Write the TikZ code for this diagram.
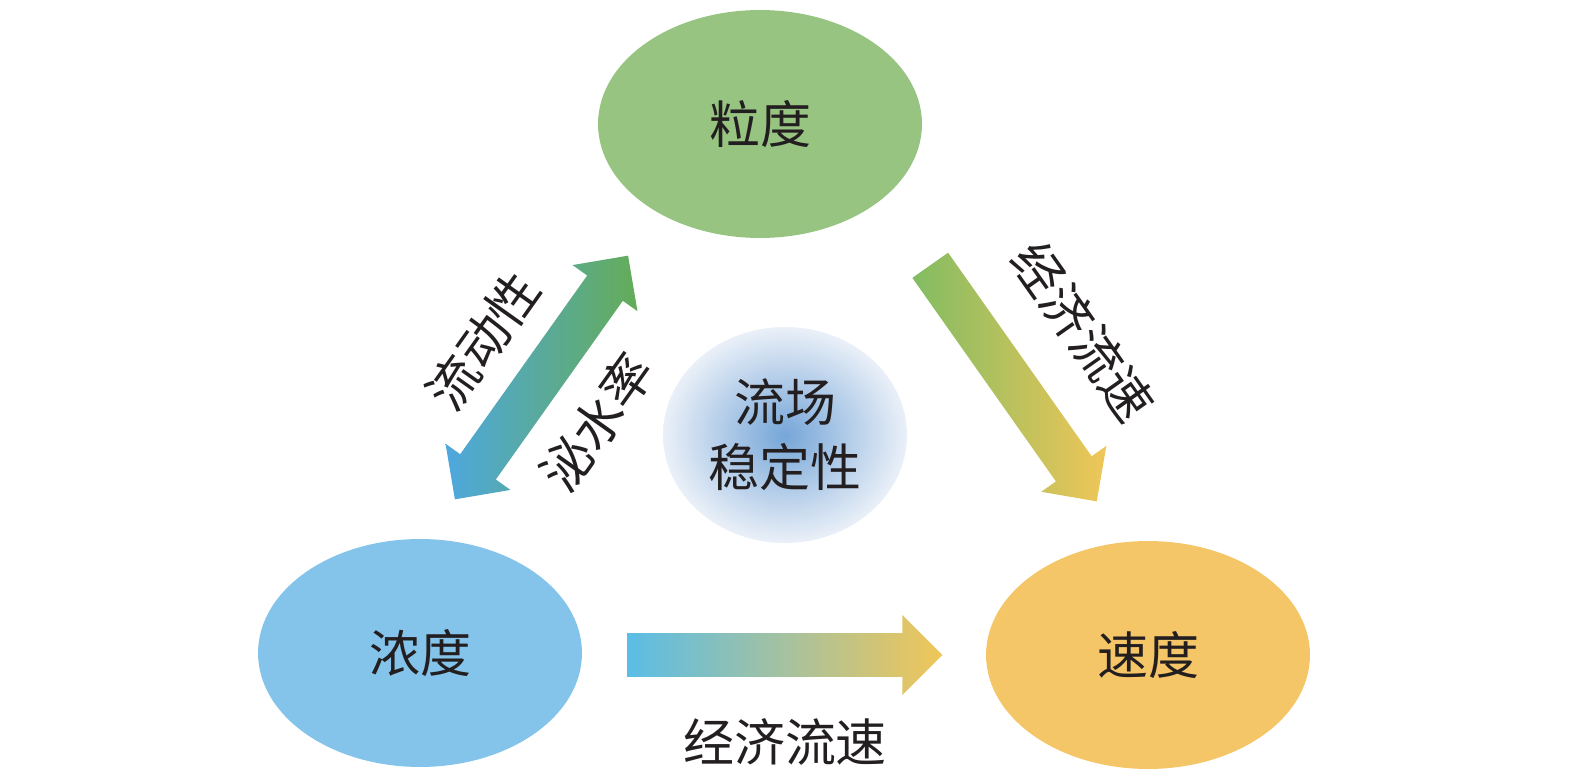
\documentclass[tikz,border=0pt]{standalone}
\usepackage{fontspec}
\newfontfamily\cjk{Noto Sans CJK SC}
\usetikzlibrary{positioning}
\usetikzlibrary{shapes.geometric}
\usetikzlibrary{shapes.arrows}
\definecolor{grain}{RGB}{152,196,130}
\definecolor{dense}{RGB}{133,196,234}
\definecolor{speed}{RGB}{245,198,103}
\definecolor{core}{RGB}{118,166,216}
\definecolor{rim}{RGB}{234,240,248}
\definecolor{arrblue}{RGB}{78,168,222}
\definecolor{arrgreen}{RGB}{100,172,88}
\definecolor{arrgreenb}{RGB}{130,188,98}
\definecolor{arryellow}{RGB}{240,198,88}
\definecolor{arrcyan}{RGB}{91,189,230}
\definecolor{ink}{RGB}{35,31,32}

\begin{document}
\begin{tikzpicture}[x=0.02cm, y=0.02cm,
    lbl/.style={text=ink, font=\cjk\fontsize{29}{37}\selectfont},
    blob/.style={ellipse, minimum width=6.48cm, minimum height=4.56cm, inner sep=0, lbl},
    fatarrow/.style={single arrow, minimum height=#1, inner xsep=0, inner ysep=0.43cm, single arrow head extend=0.36cm},
    twoarrow/.style={double arrow, minimum height=#1, inner xsep=0, inner ysep=0.43cm, double arrow head extend=0.36cm}]
    \useasboundingbox (0,0) rectangle (1575,782);

    % draw ellipses
    \node[blob, fill=grain] (grain) at (760,658) {粒度};
    \node[blob, fill=dense] (dense) at (420,129) {浓度};
    \node[blob, fill=speed] (speed) at (1148,127) {速度};
    \node[ellipse, minimum width=4.88cm, minimum height=4.32cm, inner sep=0, inner color=core, outer color=rim, lbl, align=center] (stable) at (785,347) {流场\\稳定性};

    % draw arrows
    \node[twoarrow=5.98cm, rotate=54.6, left color=arrblue, right color=arrgreen] (flow) at (541.5,404.5) {};
    \node[fatarrow=5.78cm, rotate=-54.8, anchor=tail, left color=arrgreenb, right color=arryellow] (econ) at (930,517) {};
    \node[fatarrow=6.3cm, anchor=tail, left color=arrcyan, right color=arryellow] (econb) at (627,127) {};

    % draw labels
    \node[lbl, rotate=54.6] (fluid) at (483,441) {流动性};
    \node[lbl, rotate=54.6] (bleed) at (597,360) {泌水率};
    \node[lbl, rotate=-54.8] (econt) at (1083,450) {经济流速};
    \node[lbl] (econbt) at (785,40) {经济流速};
\end{tikzpicture}
\end{document}
